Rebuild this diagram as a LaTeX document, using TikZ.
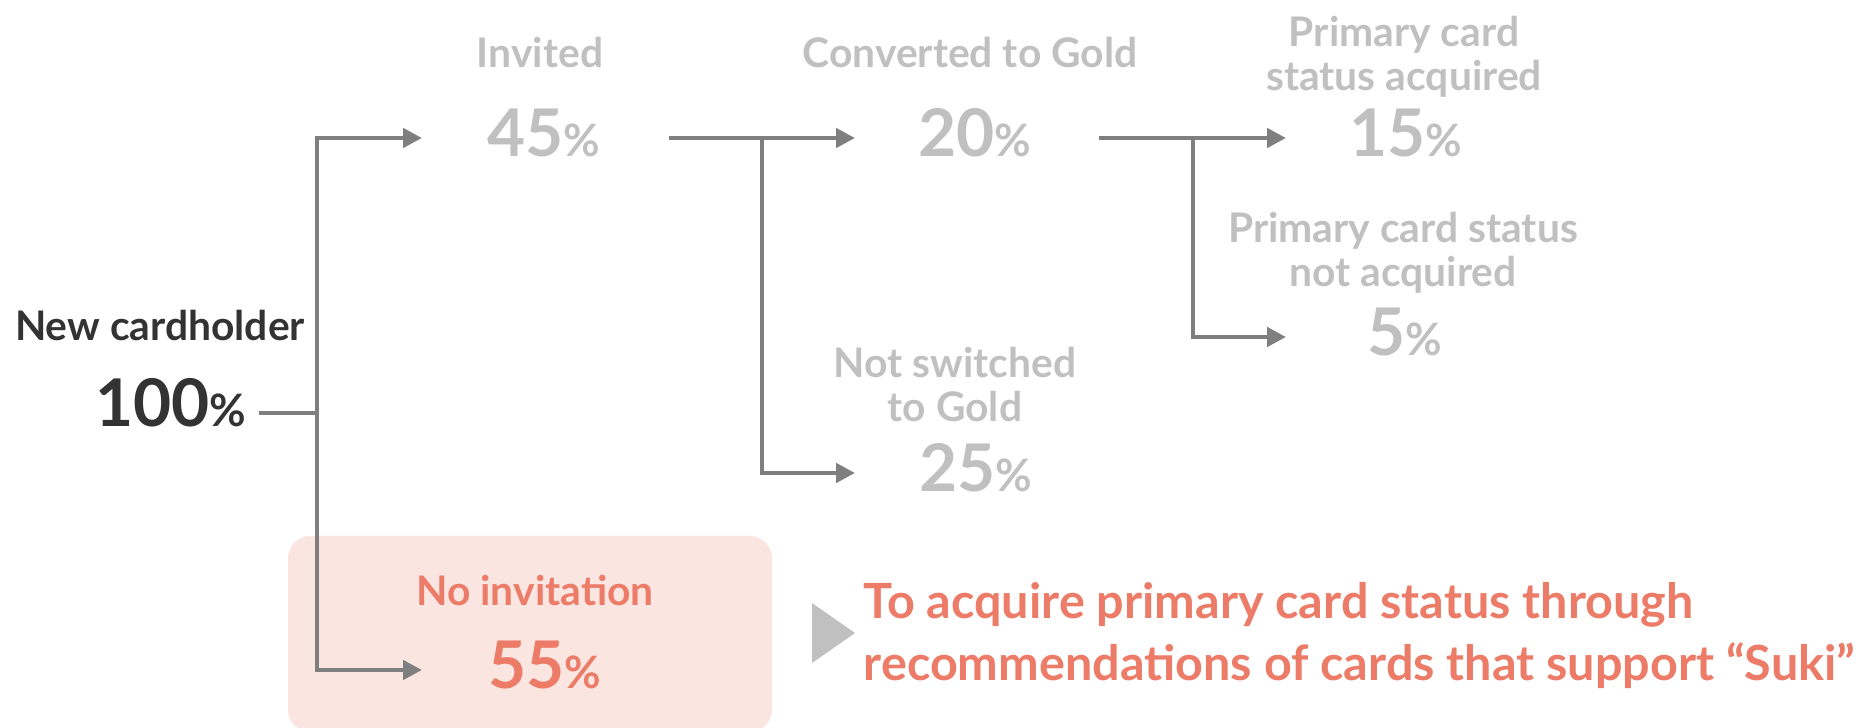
\documentclass[tikz,border=0pt]{standalone}
\usepackage{fontspec}
\setmainfont{Lato}
\usetikzlibrary{positioning,calc,arrows.meta}
\definecolor{lineg}{HTML}{7F7F7F}
\definecolor{paleg}{HTML}{C0C0C0}
\definecolor{darkt}{HTML}{333333}
\definecolor{coral}{HTML}{EC7B67}
\definecolor{blush}{HTML}{FBE5E1}
\tikzset{
  link/.style  = {draw=lineg, line width=1.3pt},
  flow/.style  = {link, -{Triangle[length=5.4pt,width=5.4pt]}},
  lbl/.style   = {font=\bfseries\fontsize{11.6}{12.7}\selectfont, text=paleg,
                  align=center, inner sep=0pt, anchor=base},
  pct/.style   = {font=\bfseries, text=paleg, inner sep=0pt,
                  text height=13.4pt, text depth=2.6pt},
  goal/.style  = {font=\bfseries\fontsize{13.8}{17.6}\selectfont, text=coral,
                  align=left, inner sep=0pt, anchor=base west},
}
\newcommand{\pcnt}[1]{{\fontsize{18.7}{18.7}\selectfont #1}{\fontsize{12.7}{12.7}\selectfont\%}}
\begin{document}
\begin{tikzpicture}[x=0.01cm, y=-0.01cm]
  \useasboundingbox (0,0) rectangle (1867,728);
  % highlighted branch
  \fill[blush, rounded corners=6.3pt] (288,536) rectangle (772,732);
  \fill[paleg] (812,603) -- (812,663) -- (855,633) -- cycle;
  % labels (two-line ones sit on their last line)
  \node[lbl, text=darkt] (new) at (160,341) {New cardholder};
  \node[lbl] (inv) at (540,68) {Invited};
  \node[lbl] (conv) at (970,68) {Converted to Gold};
  \node[lbl] (acq) at (1404,91) {Primary card\\status acquired};
  \node[lbl] (nacq) at (1403,287) {Primary card status\\not acquired};
  \node[lbl] (nsw) at (955,422) {Not switched\\to Gold};
  \node[lbl, text=coral] (noinv) at (535,606) {No invitation};
  % percentages
  \node[pct, text=darkt, anchor=base] (p100) at (171,427) {\pcnt{100}};
  \node[pct] (p45) at (544,138) {\pcnt{45}};
  \node[pct] (p20) at (975,138) {\pcnt{20}};
  \node[pct] (p15) at (1406,138) {\pcnt{15}};
  \node[pct] (p5) at (1405,337) {\pcnt{5}};
  \node[pct] (p25) at (976,473) {\pcnt{25}};
  \node[pct, text=coral] (p55) at (545,670) {\pcnt{55}};
  \node[goal] (goal) at (863,680)
    {To acquire primary card status through\\recommendations of cards that support “Suki”};
  % junctions and arrow ends
  \coordinate (j0) at (317,413);
  \coordinate (j1) at (762,138);
  \coordinate (j2) at (1193,138);
  \coordinate (e1) at (422,0);
  \coordinate (e2) at (855,0);
  \coordinate (e3) at (1286,0);
  \draw[link] ($(j0 -| p100.east)+(12,0)$) -- (j0);
  \draw[flow] (j0) |- (p45 -| e1);
  \draw[flow] (j0) |- (p55 -| e1);
  \draw[flow] ($(p45.east)+(68,0)$) -- (p20 -| e2);
  \draw[flow] (j1) |- (p25 -| e2);
  \draw[flow] ($(p20.east)+(67,0)$) -- (p15 -| e3);
  \draw[flow] (j2) |- (p5 -| e3);
\end{tikzpicture}
\end{document}
